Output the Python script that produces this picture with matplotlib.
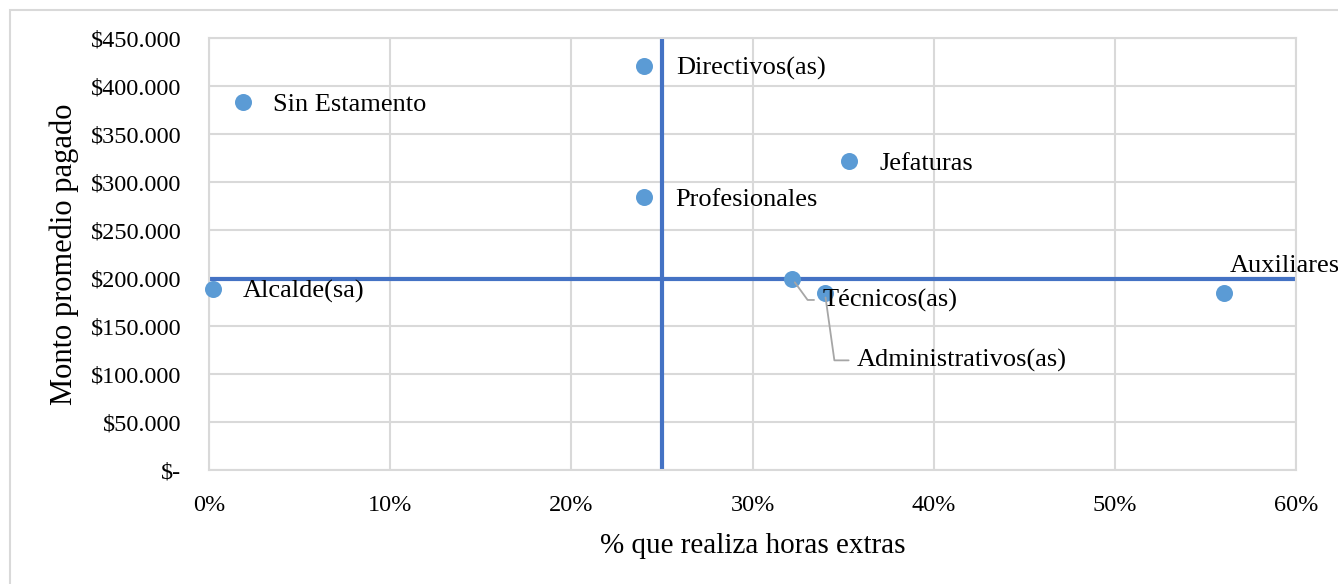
import numpy as np
from matplotlib import pyplot as plt
from matplotlib.patches import Rectangle
from matplotlib.ticker import FuncFormatter

# datos
estamentos = ['Directivos(as)', 'Sin Estamento', 'Jefaturas', 'Profesionales',
              'Alcalde(sa)', 'Técnicos(as)', 'Administrativos(as)', 'Auxiliares']
pct_horas = [0.240, 0.019, 0.353, 0.240, 0.002, 0.322, 0.340, 0.560]
monto = [421000, 383000, 322000, 284000, 189000, 199000, 184000, 184000]
ref_pct = 0.25
ref_monto = 199000

# desplazamiento de etiquetas en pixeles
offsets = [(32, -3), (30, -3), (31, -3), (31, -3), (30, -3), (30, -21), (32, -67), (6, 27)]

plt.rcParams['font.family'] = ['Liberation Serif', 'DejaVu Serif']

fig = plt.figure(figsize=(13.38, 5.84), dpi=100)
ax = fig.add_axes([209/1338, 1-470/584, (1296-209)/1338, (470-38)/584])

fig.patches.append(Rectangle((10/1338, -0.1), 1.2, 1-10/584+0.1, transform=fig.transFigure,
                             fill=False, edgecolor='#d9d9d9', linewidth=1.5))

ax.axhline(ref_monto, color='#4472C4', linewidth=3, zorder=2)
ax.axvline(ref_pct, color='#4472C4', linewidth=3, zorder=2)
ax.scatter(pct_horas, monto, s=150, color='#5B9BD5', zorder=3, linewidths=0, clip_on=False)

for name, x, y, off in zip(estamentos, pct_horas, monto, offsets):
    if name in ('Técnicos(as)', 'Administrativos(as)'):
        ang = -54 if name == 'Técnicos(as)' else -82
        ax.annotate(name, (x, y), xytext=off, textcoords='offset pixels',
                    ha='left', va='center', fontsize=19, zorder=4,
                    arrowprops=dict(arrowstyle='-', color='#a6a6a6', lw=1.3,
                                    relpos=(0, 0.5), shrinkA=4, shrinkB=3,
                                    connectionstyle='angle,angleA=0,angleB=%d' % ang))
    elif name == 'Auxiliares':
        ax.annotate(name, (x, y), xytext=off, textcoords='offset pixels',
                    ha='left', va='center', fontsize=19, annotation_clip=False)
    else:
        ax.annotate(name, (x, y), xytext=off, textcoords='offset pixels',
                    ha='left', va='center', fontsize=19)

ax.set_xlim(0, 0.6)
ax.set_ylim(0, 450000)
ax.set_xticks(np.arange(0, 0.61, 0.1))
ax.set_yticks(np.arange(0, 450001, 50000))
ax.xaxis.set_major_formatter(FuncFormatter(lambda v, p: '%d%%' % round(v*100)))
ax.yaxis.set_major_formatter(FuncFormatter(
    lambda v, p: '$-' if v == 0 else '$' + format(int(v), ',').replace(',', '.')))
ax.tick_params(length=0, labelsize=17.5)
ax.tick_params(axis='x', pad=18)
ax.tick_params(axis='y', pad=20)
ax.grid(True, color='#d9d9d9', linewidth=1.5)
ax.set_axisbelow(True)
for s in ax.spines.values():
    s.set_color('#d9d9d9')
    s.set_linewidth(1.5)

ax.set_xlabel('% que realiza horas extras', fontsize=21, labelpad=12)
ax.set_ylabel('Monto promedio pagado', fontsize=22, labelpad=8)

fig.savefig('out.png', dpi=100)
